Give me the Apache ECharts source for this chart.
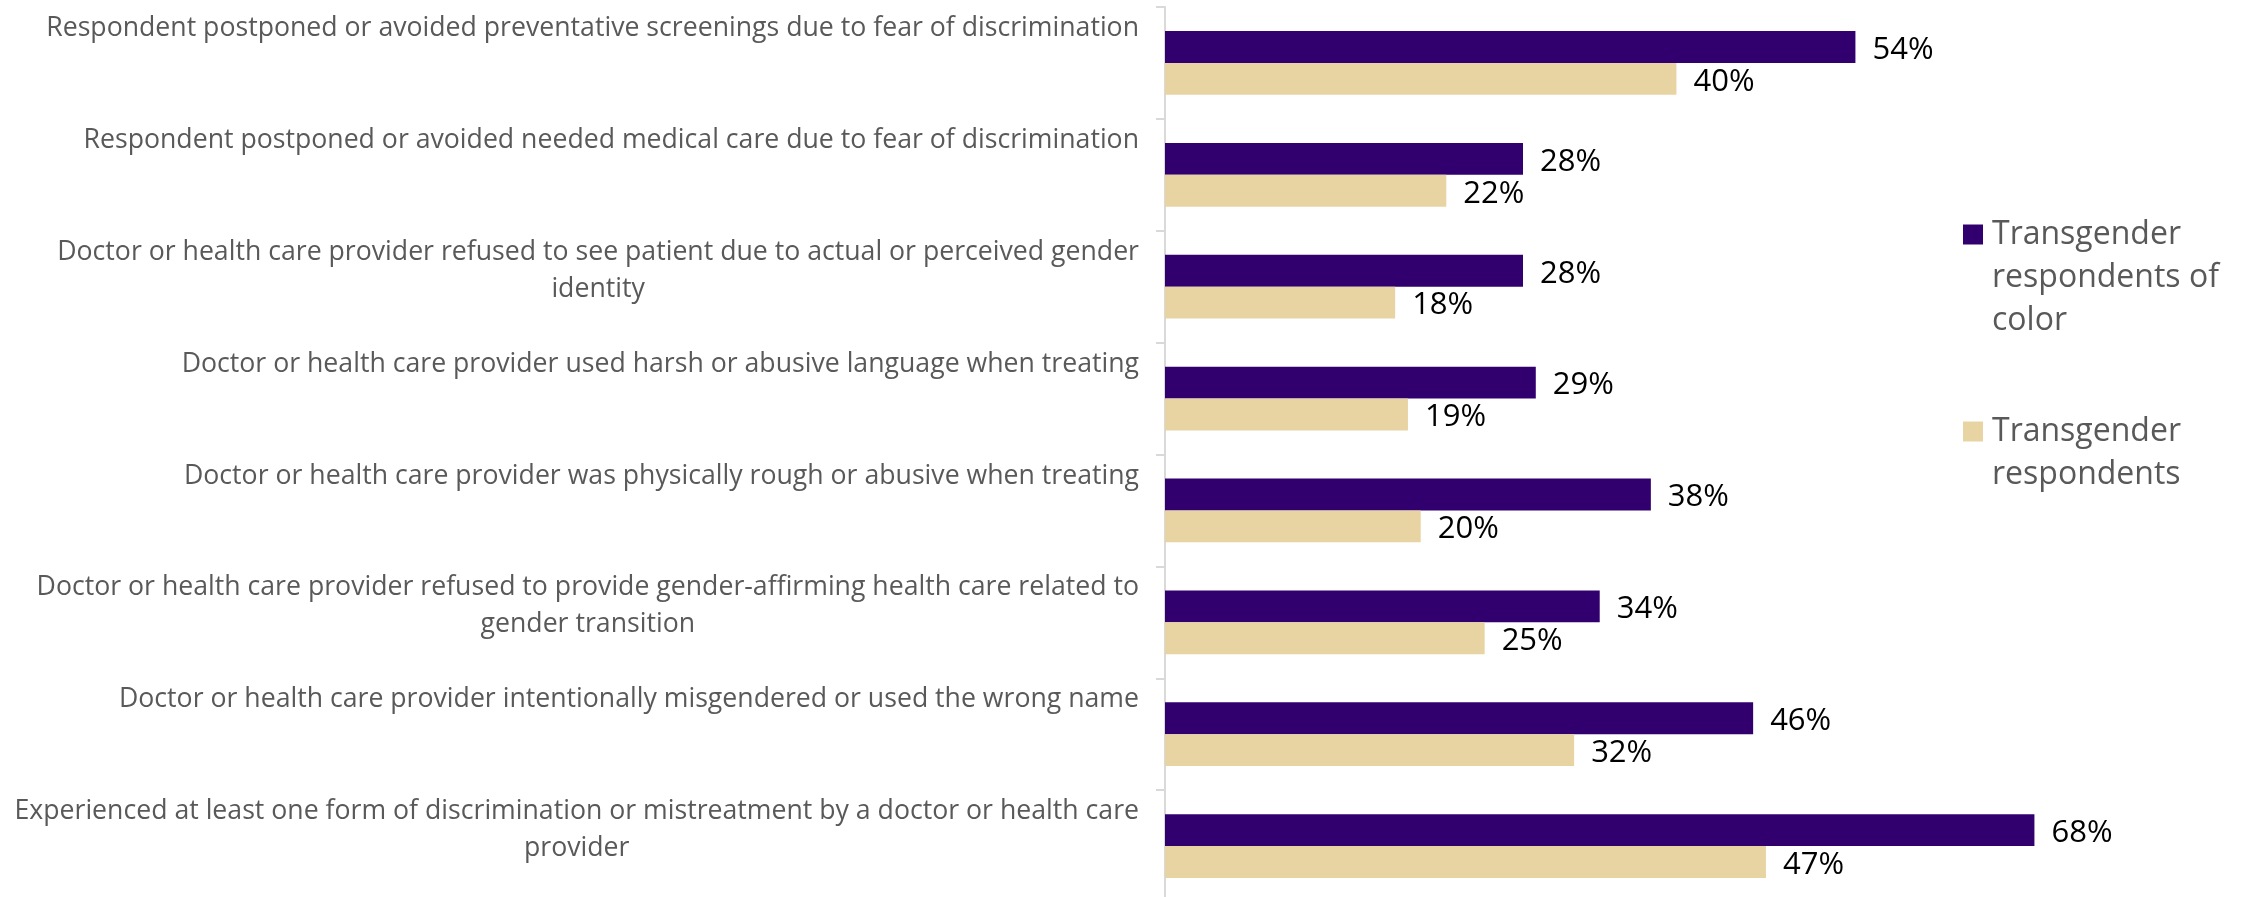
<!DOCTYPE html>
<html>
<head>
<meta charset="utf-8">
<script src="https://cdn.jsdelivr.net/npm/echarts@6/dist/echarts.min.js"></script>
<style>
html,body{margin:0;padding:0;background:#fff;}
#chart{width:2246px;height:897px;}
</style>
</head>
<body>
<div id="chart"></div>
<script>
const categories = [
  'Respondent postponed or avoided preventative screenings due to fear of discrimination',
  'Respondent postponed or avoided needed medical care due to fear of discrimination',
  'Doctor or health care provider refused to see patient due to actual or perceived gender\nidentity',
  'Doctor or health care provider used harsh or abusive language when treating',
  'Doctor or health care provider was physically rough or abusive when treating',
  'Doctor or health care provider refused to provide gender-affirming health care related to\ngender transition',
  'Doctor or health care provider intentionally misgendered or used the wrong name',
  'Experienced at least one form of discrimination or mistreatment by a doctor or health care\nprovider'
];
const seriesNames = ['Transgender respondents of color', 'Transgender respondents'];
const legendLabels = ['Transgender\nrespondents of\ncolor', 'Transgender\nrespondents'];
const colorRespondentsValues = [54, 28, 28, 29, 38, 34, 46, 68];
const allRespondentsValues = [40, 22, 18, 19, 20, 25, 32, 47];
const seriesColors = ['#32006e', '#e8d3a2'];

const chart = echarts.init(document.getElementById('chart'));
const FONT = '"Open Sans", "Noto Sans", sans-serif';

const valueLabel = {
  show: true, position: 'right', distance: 17, offset: [0, 3], formatter: '{c}%',
  fontSize: 31, color: '#000000', fontFamily: FONT
};

const option = {
  animation: false,
  backgroundColor: '#ffffff',
  grid: { left: 1165, right: 186, top: 7, bottom: -5, outerBoundsMode: 'none', containLabel: false },
  xAxis: {
    type: 'value', min: 0, max: 70, show: false,
    splitLine: { show: false }
  },
  yAxis: [
    {
      type: 'category', position: 'left', inverse: true, data: categories,
      axisLine: { show: true, lineStyle: { color: '#d9d9d9', width: 2 } },
      axisTick: { show: true, length: 9, lineStyle: { color: '#d9d9d9', width: 2 } },
      axisLabel: { show: false }
    },
    {
      type: 'category', position: 'left', inverse: true, boundaryGap: false,
      data: categories.concat(['']),
      axisLine: { show: false }, axisTick: { show: false },
      axisLabel: {
        show: true, interval: 0, margin: 26, align: 'right', verticalAlign: 'top',
        padding: [3, 0, 0, 0],
        formatter: function (v) { return v ? '{c|' + v + '}' : ''; },
        rich: { c: { align: 'center', fontSize: 26.67, lineHeight: 37, color: '#595959', fontFamily: FONT } }
      }
    }
  ],
  legend: {
    orient: 'vertical', left: 1963, top: 127, padding: 0,
    itemWidth: 20, itemHeight: 20, itemGap: 25, icon: 'rect',
    data: seriesNames,
    formatter: function (name) {
      const t = legendLabels[seriesNames.indexOf(name)];
      const n = t.split('\n').length - 1;
      return '\n'.repeat(n) + t;
    },
    textStyle: { fontSize: 32, lineHeight: 43, color: '#595959', fontFamily: FONT, padding: [0, 0, 0, 4] }
  },
  series: [
    {
      name: seriesNames[0], type: 'bar', yAxisIndex: 0, data: colorRespondentsValues,
      barGap: '0%', barCategoryGap: '43%',
      itemStyle: { color: seriesColors[0] },
      label: valueLabel
    },
    {
      name: seriesNames[1], type: 'bar', yAxisIndex: 0, data: allRespondentsValues,
      barGap: '0%', barCategoryGap: '43%',
      itemStyle: { color: seriesColors[1] },
      label: valueLabel
    }
  ]
};
chart.setOption(option);
</script>
</body>
</html>
